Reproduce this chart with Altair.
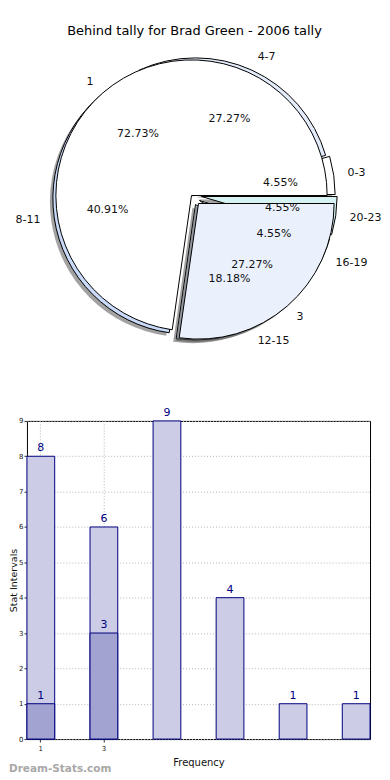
import math
import altair as alt
import pandas as pd

FONT = "DejaVu Sans"

# ---------------- data ----------------
chart_title = "Behind tally for Brad Green - 2006 tally"

hour_labels = ["0-3", "4-7", "8-11", "12-15", "16-19", "20-23"]
hour_counts = [1, 6, 9, 4, 1, 1]

shift_labels = ["1", "3"]
shift_counts = [16, 6]

bar_positions = ["1", "3", "5", "7", "9", "11"]
bar_values = [8, 6, 9, 4, 1, 1]
front_positions = ["1", "3"]
front_values = [1, 3]
x_tick_labels = ["1", "3"]
y_ticks = [0, 1, 2, 3, 4, 5, 6, 7, 8, 9]
watermark_text = "Dream-Stats.com"

# ---------------- styles ----------------
hour_fills = ["#ffffff", "#e4ecfb", "#c9d9f8", "#e0e8f6", "#dde9f4", "#d6f2f2"]
# slice displacement (dx, dy) in pixels
hour_shift = [(8, -1), (4, -2), (-3, 3), (4, 9), (8, 5), (10, 1)]
shift_fills = ["#ffffff", "#eaf0fc"]
shift_shift = [(0, 0), (7, 8)]
shift_shadow = [False, True]

LEFT = 26          # page x of the views' left edge
PIE_W = 370 - LEFT
PIE_H = 413
CX, CY = 191 - LEFT, 195 - 8
R = 136
LABEL_R = 150
PCT_R = 82


def pie_layers(labels, counts, fills, shifts, shadows):
    total = sum(counts)
    df = pd.DataFrame({"label": labels, "count": counts, "order": list(range(len(labels)))})
    base = (
        alt.Chart(df)
        .transform_window(cum="sum(count)", sort=[alt.SortField("order")], frame=[None, 0])
        .transform_joinaggregate(total="sum(count)")
        .transform_calculate(
            start="datum.cum - datum.count",
            mid="datum.cum - datum.count / 2",
            pct="datum.count / datum.total",
        )
    )
    tscale = alt.Scale(domain=[0, total], range=[2.5 * math.pi, 0.5 * math.pi])
    shadow_l, arc_l, text_l = [], [], []
    before = 0
    for i, lab in enumerate(labels):
        a = 2 * math.pi * (before + counts[i] / 2) / total
        before += counts[i]
        dx, dy = shifts[i]
        sub = base.transform_filter(alt.datum.label == lab)
        enc = dict(
            x=alt.value(CX),
            y=alt.value(CY),
            theta=alt.Theta("start:Q", scale=tscale),
            theta2=alt.Theta2("cum:Q"),
        )
        if shadows[i]:
            shadow_l.append(
                sub.mark_arc(radius=R, fill="#555555", opacity=0.55, strokeWidth=0,
                             xOffset=dx - 3, yOffset=dy + 3).encode(**enc)
            )
        arc_l.append(
            sub.mark_arc(radius=R, fill=fills[i], stroke="black", strokeWidth=1,
                         xOffset=dx, yOffset=dy).encode(**enc)
        )
        align = "left" if math.cos(a) > 0 else "right"
        text_l.append(
            sub.mark_text(radius=LABEL_R, align=align, baseline="middle", fontSize=11,
                          font=FONT, fill="#111111", xOffset=dx, yOffset=dy).encode(
                x=alt.value(CX), y=alt.value(CY),
                theta=alt.Theta("mid:Q", scale=tscale),
                text=alt.Text("label:N"),
            )
        )
        text_l.append(
            sub.mark_text(radius=PCT_R, align="center", baseline="middle", fontSize=11,
                          font=FONT, fill="#111111", xOffset=dx, yOffset=dy).encode(
                x=alt.value(CX), y=alt.value(CY),
                theta=alt.Theta("mid:Q", scale=tscale),
                text=alt.Text("pct:Q", format=".2%"),
            )
        )
    return shadow_l, arc_l, text_l


h_sh, h_arc, h_txt = pie_layers(hour_labels, hour_counts, hour_fills, hour_shift,
                                [True] * len(hour_labels))
s_sh, s_arc, s_txt = pie_layers(shift_labels, shift_counts, shift_fills, shift_shift,
                                shift_shadow)

title_layer = alt.Chart(pd.DataFrame({"t": [chart_title]})).mark_text(
    fontSize=13, font=FONT, fill="black", align="center", baseline="middle"
).encode(text="t:N", x=alt.value(194 - LEFT), y=alt.value(30 - 8))

pie = alt.layer(title_layer, *h_sh, *h_arc, *s_sh, *s_arc, *h_txt, *s_txt).properties(
    width=PIE_W, height=PIE_H
)

# ---------------- bar chart ----------------
BAR_H = 740 - 421
back_df = pd.DataFrame({"pos": bar_positions, "value": bar_values})
front_df = pd.DataFrame({"pos": front_positions, "value": front_values})

xscale = alt.Scale(domain=bar_positions, paddingInner=0.56, paddingOuter=0)
yscale = alt.Scale(domain=[0, 9], nice=False)

xaxis = alt.Axis(
    values=x_tick_labels, title="Frequency", labelAngle=0, grid=True, gridDash=[1, 2],
    gridColor="#b5b5b5", bandPosition=0.5, tickSize=3, tickColor="#333", labelFontSize=7,
    titleFontSize=10, titleFontWeight="normal", domain=False, labelPadding=2, titlePadding=6,
    labelColor="#222", titleColor="#111", labelOverlap=False,
)
yaxis = alt.Axis(
    values=y_ticks, tickCount=10, title="Stat Intervals", grid=True, gridDash=[1, 2],
    gridColor="#b5b5b5", tickSize=3, tickColor="#333", labelFontSize=7, titleFontSize=9.5,
    titleFontWeight="normal", domain=False, labelPadding=1, titlePadding=0,
    labelColor="#222", titleColor="#111", labelOverlap=False, format="d",
)

X = alt.X("pos:N", scale=xscale, axis=xaxis, sort=bar_positions)
Y = alt.Y("value:Q", scale=yscale, axis=yaxis)

back = alt.Chart(back_df).mark_bar(fill="#ccccE6", stroke="#000080", strokeWidth=1).encode(
    x=X, y=Y)
back_txt = alt.Chart(back_df).mark_text(
    baseline="bottom", dy=-3, fontSize=11, font=FONT, fill="#000080"
).encode(x=X, y=Y, text="value:Q")
front = alt.Chart(front_df).mark_bar(fill="#a3a3d1", stroke="#000080", strokeWidth=1).encode(
    x=X, y=Y)
front_txt = alt.Chart(front_df).mark_text(
    baseline="bottom", dy=-3, fontSize=11, font=FONT, fill="#000080"
).encode(x=X, y=Y, text="value:Q")
wm = alt.Chart(pd.DataFrame({"w": [watermark_text]})).mark_text(
    align="left", baseline="middle", fontSize=10.5, fontWeight="bold", font=FONT, fill="#a8a8a8"
).encode(text="w:N", x=alt.value(8 - LEFT), y=alt.value(770 - 421))

bars = alt.layer(back, front, back_txt, front_txt, wm).properties(
    width=370 - LEFT, height=BAR_H,
    view=alt.ViewBackground(stroke="black", strokeWidth=1),
)

chart = alt.vconcat(pie, bars, spacing=0, bounds="flush").properties(
    padding=0
).configure(font=FONT).configure_view(stroke=None)

chart.save("out.html", embed_options={"renderer": "svg", "actions": False})
